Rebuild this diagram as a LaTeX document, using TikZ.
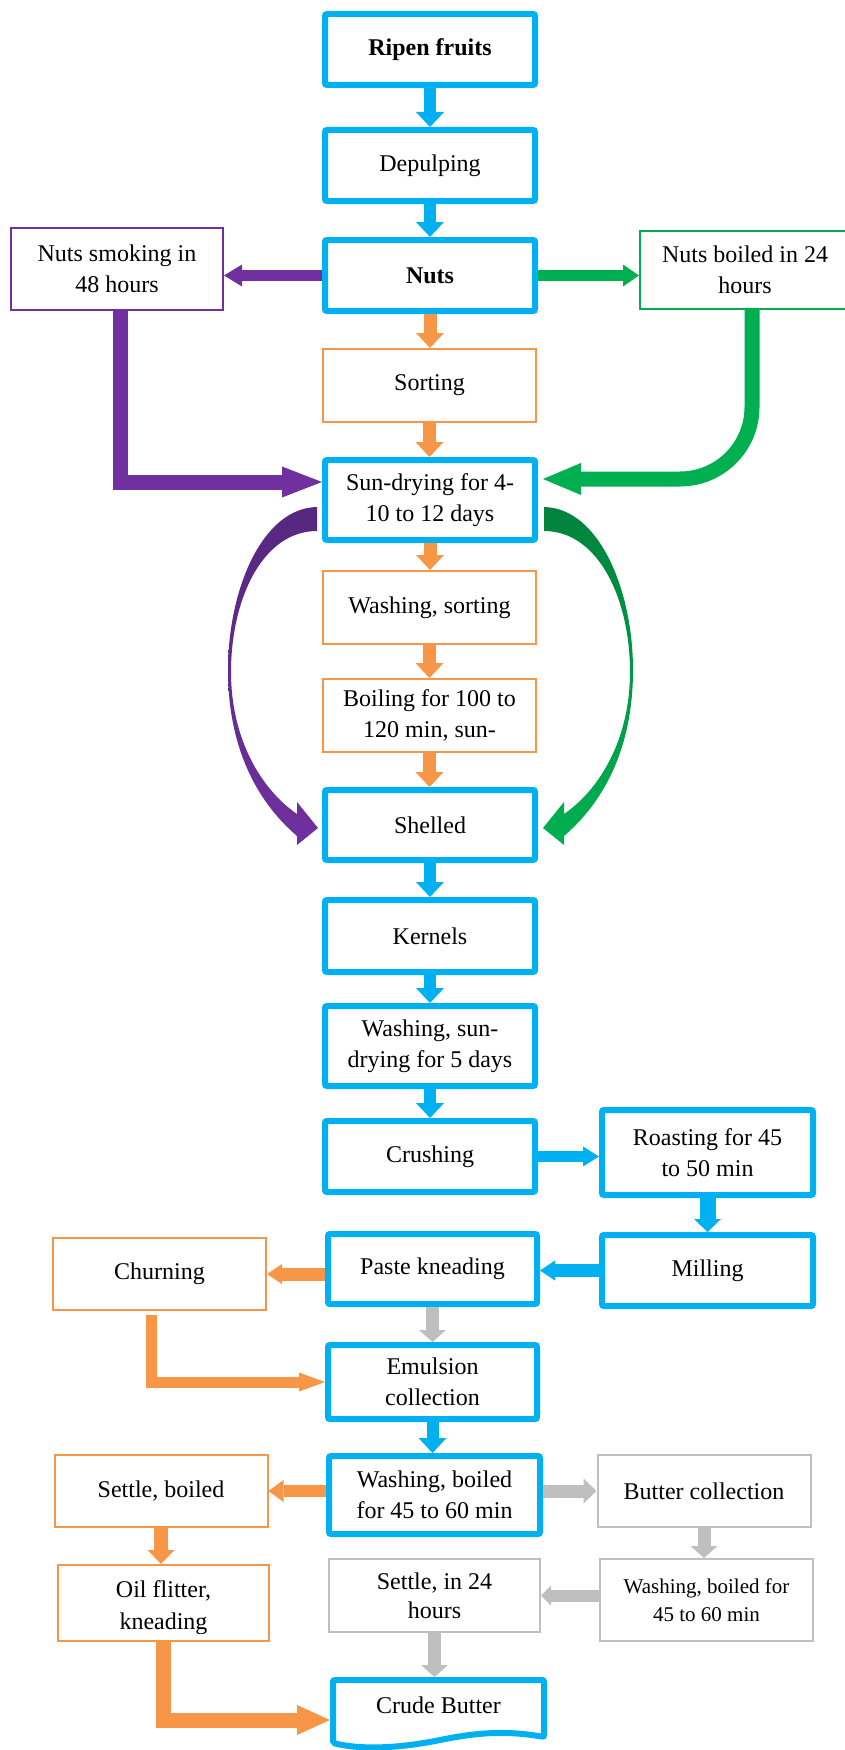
\documentclass[tikz,border=0pt]{standalone}
\usepackage{fontspec}
\setmainfont{Liberation Serif}
\usetikzlibrary{arrows.meta,calc}

\definecolor{cblue}{HTML}{00B0F0}
\definecolor{corange}{HTML}{F79646}
\definecolor{cpurple}{HTML}{7030A0}
\definecolor{cpurpled}{HTML}{55287D}
\definecolor{cgreen}{HTML}{00B050}
\definecolor{cgreend}{HTML}{00823C}
\definecolor{cgray}{HTML}{BFBFBF}

\tikzset{
  txt/.style={font=\fontsize{24}{31}\selectfont, align=center, inner sep=0pt, text=black},
  bluebox/.style={txt, draw=cblue, line width=6pt, rounded corners=2pt, fill=white,
                  minimum width=210pt, minimum height=71pt},
  thinbox/.style={txt, line width=2pt, fill=white, minimum width=213pt, minimum height=73pt},
  obox/.style={thinbox, draw=corange},
  pbox/.style={thinbox, draw=cpurple},
  gbox/.style={thinbox, draw=cgreen},
  graybox/.style={thinbox, draw=cgray},
  % block arrow: colour / shaft width / head width / head length
  ba/.style n args={4}{draw=#1, line width=#2, line join=miter,
                       -{Triangle[line width=0pt, length=#4, width=#3]}},
}

\begin{document}
\begin{tikzpicture}[x=1pt,y=-1pt]
\useasboundingbox (0,0) rectangle (845,1750);
\clip (0,0) rectangle (845,1750);

% ---- process boxes ----
\node[bluebox] (ripen) at (430,49.5) {\bfseries Ripen fruits};
\node[bluebox] (depulp) at (430,165.5) {Depulping};
\node[bluebox] (nuts) at (430,275.5) {\bfseries Nuts};
\node[pbox, minimum width=212pt, minimum height=82pt] (smoke) at (117,269) {Nuts smoking in\\48 hours};
\node[gbox, minimum width=210pt, minimum height=78pt] (boiled) at (745,270) {Nuts boiled in 24\\hours};
\node[obox] (sorting) at (429.5,385.5) {Sorting};
\node[bluebox, minimum height=80pt] (sun) at (430,500) {Sun-drying for 4-\\10 to 12 days};
\node[obox] (washsort) at (429.5,607.5) {Washing, sorting};
\node[obox] (boilmin) at (429.5,715.5) {Boiling for 100 to\\120 min, sun-};
\node[bluebox, minimum height=70pt] (shelled) at (430,825) {Shelled};
\node[bluebox, minimum height=72pt] (kernels) at (430,936) {Kernels};
\node[bluebox, minimum height=80pt] (washsun) at (430,1046) {Washing, sun-\\drying for 5 days};
\node[bluebox] (crush) at (430,1156.5) {Crushing};
\node[bluebox, minimum width=211pt, minimum height=85pt] (roast) at (707.5,1152.5) {Roasting for 45\\to 50 min};
\node[bluebox, minimum width=211pt] (mill) at (707.5,1270.5) {Milling};
\node[bluebox, minimum width=209pt, minimum height=70pt] (paste) at (432.5,1269) {Paste kneading};
\node[obox, minimum height=72pt] (churn) at (159.5,1274) {Churning};
\node[bluebox, minimum width=209pt, minimum height=74pt] (emul) at (432.5,1382) {Emulsion\\collection};
\node[bluebox, minimum width=211pt, minimum height=78pt] (washboil) at (434.5,1495) {Washing, boiled\\for 45 to 60 min};
\node[obox, minimum height=72pt] (settleb) at (161,1491) {Settle, boiled};
\node[graybox, minimum height=72pt] (butter) at (704,1491) {Butter collection};
\node[obox, minimum width=211pt, minimum height=76pt] (oil) at (163.5,1603) {};
\begin{scope}
  \clip (57,1560) rectangle (270,1633);
  \node[txt, font=\fontsize{24}{32}\selectfont] (oiltext) at (163.5,1608) {Oil flitter,\\kneading};
\end{scope}
\node[graybox, minimum height=82pt, font=\fontsize{21}{28}\selectfont] (washgray) at (706.5,1600) {Washing, boiled for\\45 to 60 min};
\node[graybox, minimum width=211pt, font=\fontsize{24}{29}\selectfont] (settlegray) at (434.5,1595.5) {Settle, in 24\\hours};

% document-shaped end box
\node[txt, line width=6pt, minimum width=211pt, minimum height=62pt] (crude) at (438.5,1711) {};
\draw[cblue, line width=6pt, fill=white, rounded corners=2pt]
  (333,1680) -- (544,1680) -- (544,1737)
  .. controls (505,1730) and (475,1733) .. (440,1740)
  .. controls (400,1748) and (362,1750) .. (333,1743) -- cycle;
\node[txt] (crudetxt) at ($(crude.center)+(0,-6)$) {Crude Butter};

% ---- main column arrows ----
\draw[ba={cblue}{12pt}{28pt}{15pt}] (ripen.south) -- (depulp.north);
\draw[ba={cblue}{12pt}{28pt}{15pt}] (depulp.south) -- (nuts.north);
\draw[ba={corange}{13pt}{28pt}{15pt}] (nuts.south) -- (nuts.south |- sorting.north);
\draw[ba={corange}{13pt}{28pt}{15pt}] (sorting.south) -- (sorting.south |- sun.north);
\draw[ba={corange}{13pt}{28pt}{15pt}] (sun.south) -- (sun.south |- washsort.north);
\draw[ba={corange}{13pt}{28pt}{15pt}] (washsort.south) -- (boilmin.north);
\draw[ba={corange}{13pt}{28pt}{15pt}] (boilmin.south) -- (boilmin.south |- shelled.north);
\draw[ba={cblue}{12pt}{28pt}{15pt}] (shelled.south) -- (kernels.north);
\draw[ba={cblue}{12pt}{28pt}{15pt}] (kernels.south) -- (washsun.north);
\draw[ba={cblue}{12pt}{28pt}{15pt}] (washsun.south) -- (crush.north);
\draw[ba={cblue}{11pt}{20pt}{16pt}] (crush.east) -- (crush.east -| roast.west);
\draw[ba={cblue}{16pt}{27pt}{13pt}] (roast.south) -- (mill.north);
\draw[ba={cblue}{13pt}{20pt}{15pt}] (mill.west) -- (mill.west -| paste.east);
\draw[ba={corange}{13pt}{20pt}{15pt}] (paste.west |- churn.east) -- (churn.east);
\draw[ba={cgray}{13pt}{27pt}{12pt}] (paste.south) -- (paste.south |- emul.north);
\draw[ba={corange}{11pt}{19pt}{26pt}] ($(churn.south)+(-8,4)$) |- (emul.west);
\draw[ba={cblue}{12pt}{28pt}{15pt}] (emul.south) -- (emul.south |- washboil.north);
\draw[ba={corange}{12pt}{22pt}{15pt}] (washboil.west |- settleb.east) -- (settleb.east);
\draw[ba={cgray}{13pt}{25pt}{13pt}] (washboil.east |- butter.west) -- (butter.west);
\draw[ba={corange}{14pt}{27pt}{14pt}] (settleb.south) -- (settleb.south |- oil.north);
\draw[ba={cgray}{13pt}{27pt}{12pt}] (butter.south) -- (butter.south |- washgray.north);
\draw[ba={cgray}{12pt}{20pt}{10pt}] (washgray.west |- settlegray.east) -- (settlegray.east);
\draw[ba={cgray}{13pt}{27pt}{12pt}] (settlegray.south) -- (settlegray.south |- crude.north);
\draw[ba={corange}{15pt}{30pt}{33pt}] (oil.south) |- ($(crude.west)+(0,9)$);

% ---- side branches ----
\draw[ba={cpurple}{11pt}{22pt}{18pt}] (nuts.west) -- (nuts.west -| smoke.east);
\draw[ba={cgreen}{11pt}{22pt}{16pt}] (nuts.east) -- (nuts.east -| boiled.west);
\draw[ba={cpurple}{15pt}{31pt}{40pt}] ($(smoke.south)+(3,0)$) |- ($(sun.west)+(0,-18)$);
\draw[ba={cgreen}{15pt}{32pt}{38pt}, rounded corners=72pt] ($(boiled.south)+(7,0)$) |- ($(sun.east)+(5,-21)$);

% curved tapered arrows from sun-drying to shelled
\shade[top color=cpurpled, bottom color=cpurple]
  (317,507) .. controls (262,508) and (228,590) .. (228,670)
  .. controls (228,745) and (255,800) .. (297,836)
  -- (297,845) -- (318,828) -- (297,802) -- (297,814)
  .. controls (262,790) and (231,740) .. (231,672)
  .. controls (231,600) and (262,531) .. (317,531) -- cycle;
\shade[top color=cgreend, bottom color=cgreen]
  (544,507) .. controls (599,508) and (633,590) .. (633,670)
  .. controls (633,745) and (606,800) .. (564,836)
  -- (564,845) -- (543,828) -- (564,802) -- (564,814)
  .. controls (599,790) and (630,740) .. (630,672)
  .. controls (630,600) and (599,531) .. (544,531) -- cycle;
\end{tikzpicture}
\end{document}
